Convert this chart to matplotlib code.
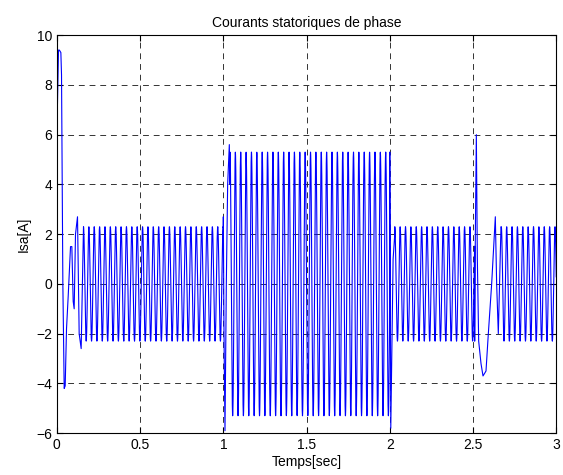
import numpy as np
import matplotlib
matplotlib.use('Agg')
import matplotlib.pyplot as plt

plt.rcParams['font.family'] = ['Liberation Sans', 'DejaVu Sans']

# visible oscillation frequency of the phase current
freq_hz = 31.0

# steady-state segments: start, end, peak amplitude [A]
seg_start = [0.16, 1.04, 2.03, 2.67]
seg_end = [1.00, 2.00, 2.51, 3.00]
seg_amp = [2.3, 5.3, 2.3, 2.3]

# transients (time [s], current [A])
startup_t = [0.000, 0.002, 0.010, 0.015, 0.024, 0.028, 0.032, 0.036, 0.044, 0.050,
             0.058, 0.068, 0.082, 0.090, 0.098, 0.104, 0.112, 0.124, 0.134, 0.146, 0.160]
startup_i = [0.0, 6.7, 9.4, 9.4, 9.3, 8.4, 4.5, 0.0, -4.2, -4.1,
             -1.8, -0.5, 1.5, 1.5, -0.7, -1.0, 2.0, 2.7, -2.0, -2.6, 2.3]

step1_t = [1.000, 1.004, 1.010, 1.018, 1.026, 1.036, 1.040]
step1_i = [2.7, -2.0, -5.9, 0.0, 4.0, 5.6, 4.0]

step2_t = [2.000, 2.006, 2.012, 2.020, 2.030]
step2_i = [5.3, -5.8, -3.0, 1.0, 2.0]

spike_t = [2.510, 2.514, 2.520, 2.526, 2.534, 2.548, 2.560, 2.578, 2.592, 2.612,
           2.634, 2.642, 2.652, 2.668]
spike_i = [-2.3, 2.0, 6.0, 1.0, -2.3, -3.2, -3.7, -3.5, -2.0, 0.0,
           2.7, 0.0, -2.0, 2.3]

transients = [(startup_t, startup_i), (step1_t, step1_i), (step2_t, step2_i), (spike_t, spike_i)]

fig = plt.figure(figsize=(5.63, 4.75), dpi=100)
ax = fig.add_axes([0.101, 0.088, 0.887, 0.838])

t_all = []
i_all = []
for k in range(4):
    tr_t, tr_i = transients[k]
    t_all.append(np.array(tr_t))
    i_all.append(np.array(tr_i))
    t = np.arange(seg_start[k], seg_end[k], 0.0005)
    t_all.append(t)
    i_all.append(seg_amp[k] * np.cos(2 * np.pi * freq_hz * (t - seg_start[k])))

ax.plot(np.concatenate(t_all), np.concatenate(i_all), color='#0000ff', lw=0.8)

ax.set_xlim(0, 3)
ax.set_ylim(-6, 10)
ax.set_xticks([0, 0.5, 1, 1.5, 2, 2.5, 3])
ax.set_xticklabels(['0', '0.5', '1', '1.5', '2', '2.5', '3'])
ax.set_yticks(range(-6, 11, 2))
ax.grid(True, color='#333333', linestyle=(0, (6, 5)), linewidth=0.7)
ax.tick_params(direction='in', top=True, right=True, labelsize=10, length=4)
for s in ax.spines.values():
    s.set_linewidth(0.8)

ax.set_title('Courants statoriques de phase', fontsize=10)
ax.set_xlabel('Temps[sec]', fontsize=10, labelpad=2)
ax.set_ylabel('Isa[A]', fontsize=10)

fig.savefig('out.png', dpi=100)
